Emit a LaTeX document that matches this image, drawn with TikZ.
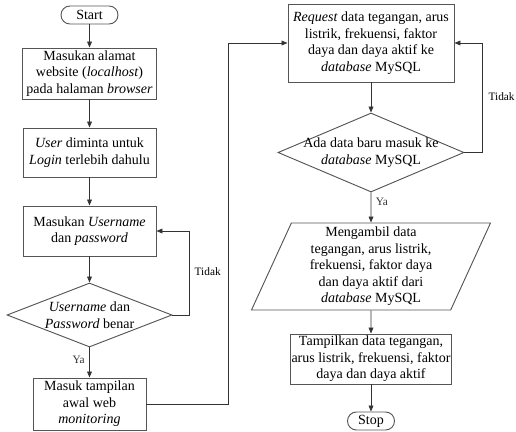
\documentclass[tikz,border=0pt]{standalone}
\usepackage{fontspec}
\setmainfont{Liberation Serif}
\usepackage{tikz}
\usetikzlibrary{arrows.meta,positioning,shapes.geometric,calc}
\definecolor{Ink}{HTML}{333333}
\definecolor{Frame}{HTML}{555555}

\begin{document}
\begin{tikzpicture}[
  x=0.75pt, y=-0.75pt,
  font=\fontsize{10.5}{12.4}\selectfont,
  process/.style={
    draw=Frame,
    line width=0.7pt,
    rectangle,
    inner sep=1pt,
    align=center
  },
  terminal/.style={
    process,
    rounded corners=6.7pt,
    minimum width=#1,
    minimum height=13.5pt
  },
  decision/.style={
    draw=Frame,
    line width=0.7pt,
    diamond,
    inner sep=0pt
  },
  inout/.style={
    draw=Frame,
    line width=0.7pt,
    trapezium,
    trapezium left angle=63.2,
    trapezium right angle=116.8,
    trapezium stretches body,
    inner sep=0pt,
    align=center
  },
  arrow/.style={-{Triangle[length=4.5pt,width=3.6pt]},line width=0.6pt,color=Ink},
  note/.style={font=\fontsize{8.5}{10}\selectfont}
]
\useasboundingbox (0,0) rectangle (516,431);

% left column
\node[terminal=42.75pt] (start) at (89.5,15) {Start};
\node[process,minimum width=100.5pt,minimum height=38.25pt] (site) at (89.5,73.5)
  {Masukan alamat\\website (\textit{localhost})\\pada halaman \textit{browser}};
\node[process,minimum width=99.75pt,minimum height=36.75pt] (login) at (89.5,152.5)
  {\textit{User} diminta untuk\\\textit{Login} terlebih dahulu};
\node[process,minimum width=99.75pt,minimum height=37.5pt] (input) at (89.5,231)
  {Masukan \textit{Username}\\dan \textit{password}};
\node[decision,minimum width=123.75pt,minimum height=48pt,
  label={[align=center]center:\textit{Username} dan\\\textit{Password} benar}] (check) at (89.5,315) {};
\node[process,minimum width=84.75pt,minimum height=39pt] (home) at (89.5,404)
  {Masuk tampilan\\awal web\\\textit{monitoring}};

% right column
\node[process,minimum width=124.5pt,minimum height=58.5pt] (request) at (371,43)
  {\textit{Request} data tegangan, arus\\listrik, frekuensi, faktor\\daya dan daya aktif ke\\\textit{database} MySQL};
\node[decision,minimum width=139.5pt,minimum height=59.25pt,
  label={[align=center]center:Ada data baru masuk ke\\\textit{database} MySQL}] (fresh) at (371,152.5) {};
\node[inout,minimum width=179.25pt,minimum height=65.25pt] (fetch) at (371,266.5)
  {Mengambil data\\tegangan, arus listrik,\\frekuensi, faktor daya\\dan daya aktif dari\\\textit{database} MySQL};
\node[process,minimum width=112.5pt,minimum height=37.5pt] (show) at (371,359)
  {Tampilkan data tegangan,\\arus listrik, frekuensi, faktor\\daya dan daya aktif};
\node[terminal=35.25pt] (stop) at (371,421) {Stop};

% loop points
\coordinate (tidakL) at (189,231);
\coordinate (bridge) at (228,404);
\coordinate (tidakR) at (482,43);
\node[note,anchor=west] (noL) at (190,272) {Tidak};
\node[note,anchor=west,inner sep=1pt] (noR) at (487,97) {Tidak};

\draw[arrow] (start) -- (site);
\draw[arrow] (site) -- (login);
\draw[arrow] (login) -- (input);
\draw[arrow] (input) -- (check);
\draw[arrow] (check) -- node[note,pos=0.4,left=0pt] {Ya} (home);
\draw[arrow] (check.east) -| (tidakL) -- (input.east);
\draw[arrow] (home.east) -- (bridge) |- (request.west);
\draw[arrow] (request) -- (fresh);
\draw[arrow] (fresh) -- node[note,pos=0.3,right=0pt] {Ya} (fetch);
\draw[arrow] (fresh.east) -| (tidakR) -- (request.east);
\draw[arrow] (fetch) -- (show);
\draw[arrow] (show) -- (stop);
\end{tikzpicture}
\end{document}
